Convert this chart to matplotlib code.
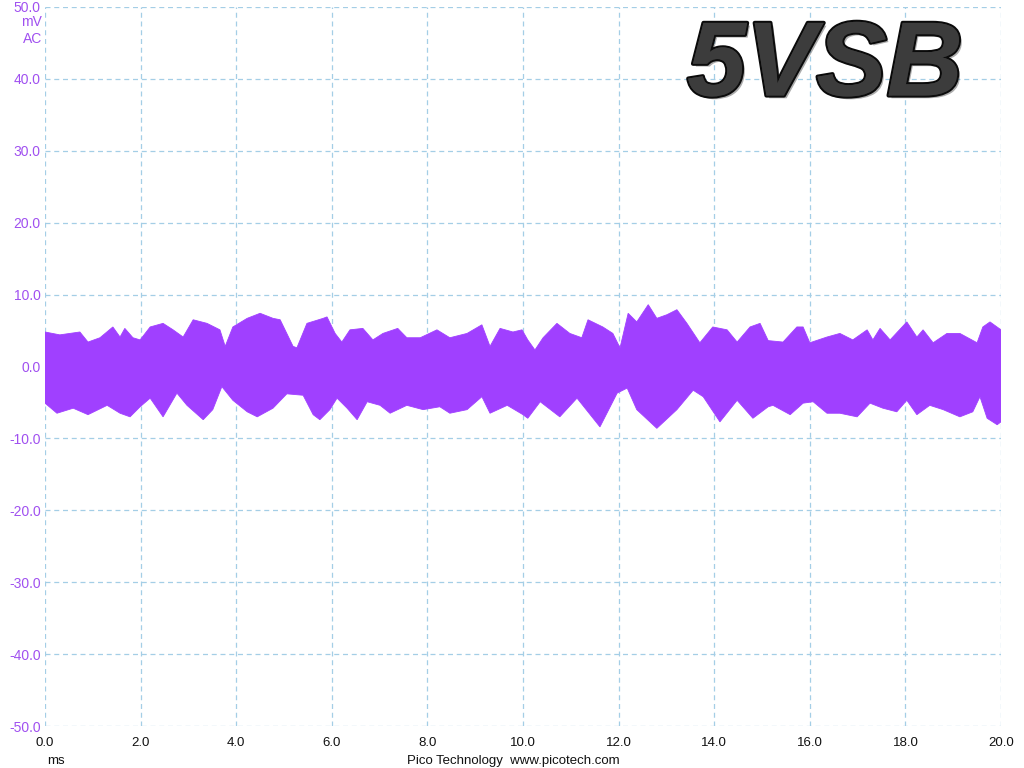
import matplotlib
matplotlib.use("Agg")
import matplotlib.pyplot as plt
import matplotlib.patheffects as pe
import numpy as np

# Upper envelope (time ms, mV)
t_upper = [0.0, 0.31, 0.73, 0.90, 1.15, 1.42, 1.57, 1.67, 1.84, 1.99, 2.20, 2.47, 2.68, 2.89,
           3.10, 3.39, 3.66, 3.77, 3.93, 4.23, 4.50, 4.77, 4.92, 5.19, 5.27, 5.48, 5.82, 5.90,
           6.07, 6.21, 6.38, 6.65, 6.86, 7.07, 7.38, 7.57, 7.85, 8.20, 8.47, 8.83, 9.14, 9.31,
           9.52, 9.79, 9.98, 10.10, 10.25, 10.42, 10.71, 10.98, 11.23, 11.36, 11.67, 11.88,
           12.03, 12.20, 12.38, 12.62, 12.80, 13.01, 13.22, 13.43, 13.70, 13.97, 14.27, 14.48,
           14.75, 14.96, 15.13, 15.44, 15.73, 15.86, 16.00, 16.36, 16.63, 16.90, 17.20, 17.32,
           17.47, 17.68, 18.03, 18.24, 18.37, 18.58, 18.87, 19.14, 19.50, 19.62, 19.77, 20.0]
v_upper = [4.8, 4.4, 4.8, 3.4, 4.0, 5.5, 4.1, 5.3, 4.0, 3.7, 5.5, 6.0, 5.1, 4.1,
           6.5, 6.0, 5.1, 2.8, 5.5, 6.7, 7.4, 6.7, 6.5, 2.8, 2.6, 6.0, 6.7, 6.9,
           4.6, 3.4, 5.1, 5.3, 3.7, 4.6, 5.3, 4.0, 4.0, 5.1, 4.0, 4.6, 5.8, 2.8,
           5.3, 4.8, 5.1, 3.7, 2.3, 4.0, 6.0, 4.6, 4.0, 6.5, 5.5, 4.6,
           2.6, 7.4, 6.2, 8.6, 6.7, 7.2, 7.9, 6.0, 3.3, 5.5, 5.1, 3.4,
           5.5, 6.0, 3.6, 3.4, 5.5, 5.5, 3.3, 4.1, 4.6, 3.7, 5.1, 3.7,
           5.3, 3.7, 6.2, 4.1, 5.1, 3.3, 4.6, 4.6, 3.3, 5.5, 6.2, 5.1]

# Lower envelope (time ms, mV)
t_lower = [0.0, 0.25, 0.59, 0.90, 1.30, 1.57, 1.78, 1.99, 2.20, 2.47, 2.76, 2.97, 3.31, 3.51,
           3.70, 3.93, 4.23, 4.44, 4.77, 5.06, 5.40, 5.61, 5.75, 5.96, 6.11, 6.32, 6.53, 6.74,
           7.01, 7.22, 7.57, 7.91, 8.26, 8.47, 8.83, 9.14, 9.31, 9.67, 10.00, 10.10, 10.36,
           10.77, 11.13, 11.61, 11.97, 12.18, 12.38, 12.80, 13.22, 13.56, 13.77, 14.12, 14.48,
           14.81, 15.13, 15.23, 15.59, 15.86, 16.07, 16.36, 16.63, 16.99, 17.26, 17.53, 17.82,
           18.03, 18.24, 18.51, 18.79, 19.14, 19.41, 19.56, 19.71, 19.92, 20.0]
v_lower = [-5.1, -6.5, -5.8, -6.7, -5.4, -6.5, -7.0, -5.6, -4.4, -7.0, -3.7, -5.4, -7.4, -6.0,
           -2.8, -4.7, -6.3, -7.0, -5.8, -3.8, -4.0, -6.7, -7.4, -6.0, -4.4, -5.8, -7.4, -4.9,
           -5.4, -6.5, -5.4, -6.0, -5.6, -6.5, -6.0, -4.2, -6.5, -5.4, -6.7, -7.2, -4.9,
           -7.0, -4.4, -8.4, -3.7, -3.0, -6.0, -8.6, -6.0, -3.3, -4.2, -7.7, -4.7,
           -7.2, -5.6, -5.4, -6.7, -5.1, -4.9, -6.5, -6.5, -7.0, -5.1, -5.8, -6.3,
           -4.7, -6.7, -5.4, -6.0, -7.0, -6.3, -4.2, -7.2, -8.1, -7.7]

x_ticks = [0, 2, 4, 6, 8, 10, 12, 14, 16, 18, 20]
y_ticks = [-50, -40, -30, -20, -10, 0, 10, 20, 30, 40, 50]

plt.rcParams['font.family'] = ['Liberation Sans', 'DejaVu Sans']

fig = plt.figure(figsize=(10.24, 7.68), dpi=100)
ax = fig.add_axes([45/1024, 42/768, 956/1024, 719/768])

poly_t = list(t_upper) + list(t_lower[::-1])
poly_v = list(v_upper) + list(v_lower[::-1])
ax.fill(poly_t, poly_v, color='#A040FF', lw=0.6, edgecolor='#A040FF', zorder=3)

ax.set_xlim(0, 20)
ax.set_ylim(-50, 50)
ax.set_xticks(x_ticks)
ax.set_yticks(y_ticks)
ax.set_xticklabels([f"{v:.1f}" for v in x_ticks], fontsize=9.5, color='#111111')
ax.set_yticklabels([f"{v:.1f}" for v in y_ticks], fontsize=10, color='#A050F0')
ax.tick_params(axis='both', length=0)
ax.tick_params(axis='x', pad=8)
ax.tick_params(axis='y', pad=3)
for s in ax.spines.values():
    s.set_visible(False)
ax.grid(True, color='#A4CEE6', linestyle=(0, (4, 3)), linewidth=0.9, zorder=1)

fig.text(42/1024, 1 - 22/768, "mV", ha='right', va='center', fontsize=10, color='#A050F0')
fig.text(42/1024, 1 - 39/768, "AC", ha='right', va='center', fontsize=10, color='#A050F0')
fig.text(56/1024, 1 - 761/768, "ms", ha='center', va='center', fontsize=9.5, color='#111111')
fig.text(513/1024, 1 - 761/768, "Pico Technology  www.picotech.com", ha='center', va='center',
         fontsize=9.5, color='#111111')

fig.text(825/1024, 1 - 68/768, "5VSB", ha='center', va='center', fontsize=76,
         fontweight='bold', fontstyle='italic', color='#3c3c3c',
         path_effects=[pe.withStroke(linewidth=3, foreground='#0a0a0a'),
                       pe.SimplePatchShadow(offset=(2, -2), alpha=0.35), pe.Normal()])

fig.savefig("out.png", dpi=100)
